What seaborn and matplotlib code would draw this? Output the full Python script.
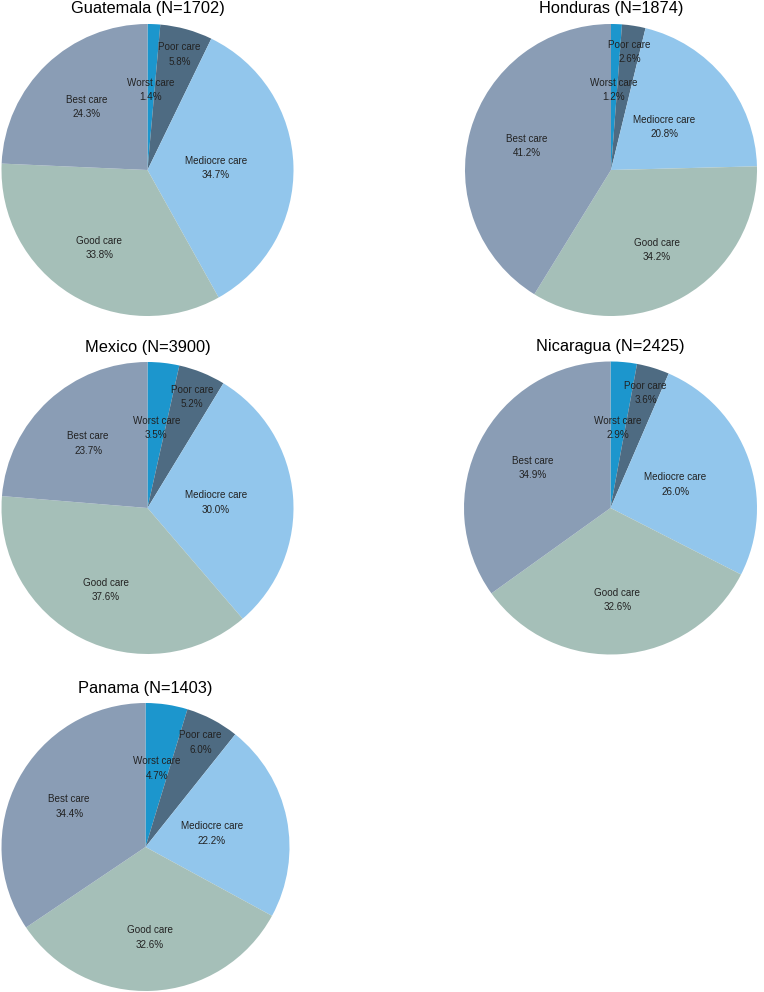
import matplotlib
matplotlib.use("Agg")
import matplotlib.pyplot as plt
import seaborn as sns
import numpy as np

# Care rating shares (%) per country
categories = ['Worst care', 'Poor care', 'Mediocre care', 'Good care', 'Best care']
countries = ['Guatemala', 'Honduras', 'Mexico', 'Nicaragua', 'Panama']
sample_sizes = [1702, 1874, 3900, 2425, 1403]

guatemala = [1.4, 5.8, 34.7, 33.8, 24.3]
honduras = [1.2, 2.6, 20.8, 34.2, 41.2]
mexico = [3.5, 5.2, 30.0, 37.6, 23.7]
nicaragua = [2.9, 3.6, 26.0, 32.6, 34.9]
panama = [4.7, 6.0, 22.2, 32.6, 34.4]

shares = [guatemala, honduras, mexico, nicaragua, panama]

sns.set_style("white")
plt.rcParams['font.family'] = ['Liberation Sans', 'DejaVu Sans']

palette = sns.color_palette(['#1c96cd', '#4e6b82', '#92c6ec', '#a5bfb8', '#8a9db5'])

# label radius (fraction of pie radius) per slice, mimics the original placement
label_r = [0.55, 0.82, 0.47, 0.63, 0.6]

W, H = 764, 992
fig = plt.figure(figsize=(W / 100, H / 100), dpi=100)

# pie centres and radii in pixels
centers = [(147.5, 170), (611, 170), (147.5, 508), (610.5, 508), (145.5, 847)]
radii = [146, 146, 146, 146.5, 144]

for name, n, vals, (cx, cy), r in zip(countries, sample_sizes, shares, centers, radii):
    ax = fig.add_axes([(cx - r) / W, 1 - (cy + r) / H, 2 * r / W, 2 * r / H])
    wedges, _ = ax.pie(vals, colors=palette, startangle=90, counterclock=False,
                       radius=1, wedgeprops=dict(linewidth=0))
    for w, cat, v, lr in zip(wedges, categories, vals, label_r):
        mid = np.deg2rad((w.theta1 + w.theta2) / 2)
        ax.text(lr * np.cos(mid), lr * np.sin(mid), f"{cat}\n{v:.1f}%",
                ha='center', va='center', fontsize=7.1, color='#222222',
                linespacing=1.55)
    ax.text(0, 1 + 15 / r, f"{name} (N={n})", ha='center', va='center',
            fontsize=11.8, color='black')
    ax.set_xlim(-1, 1)
    ax.set_ylim(-1, 1)
    ax.set_aspect('equal')
    ax.axis('off')

fig.savefig("out.png", dpi=100)
